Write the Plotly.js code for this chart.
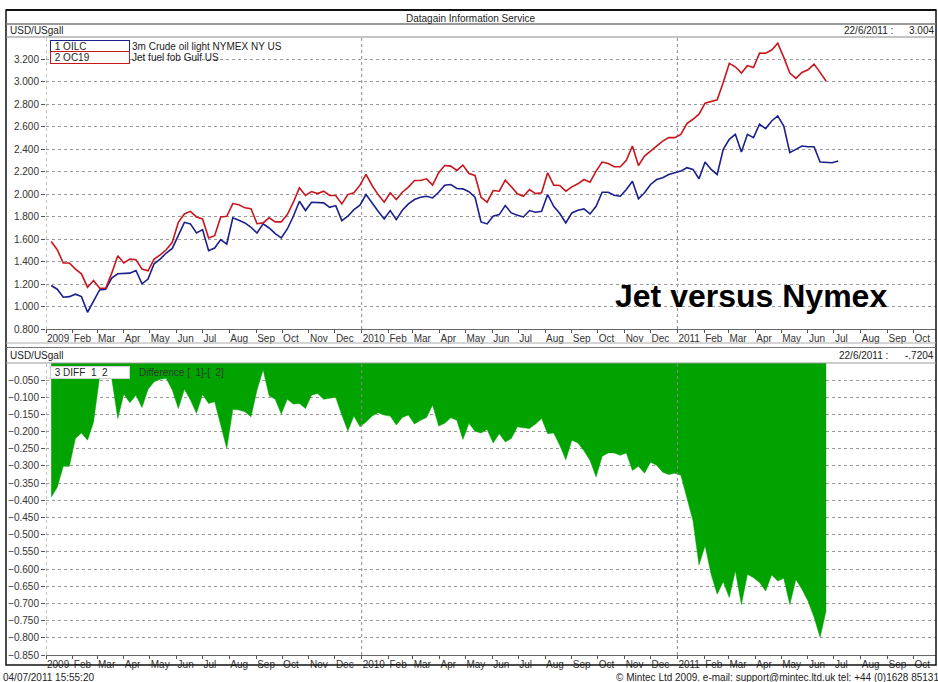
<!DOCTYPE html>
<html><head><meta charset="utf-8">
<script src="https://cdn.plot.ly/plotly-3.0.1.min.js"></script>
<style>html,body{margin:0;padding:0;background:#fff}#chart{width:938px;height:682px}</style>
</head><body><div id="chart"></div>
<script>
// Weekly observation dates (Wednesdays)
const weeks = [
'2009-01-07','2009-01-14','2009-01-21','2009-01-28','2009-02-04','2009-02-11','2009-02-18','2009-02-25',
'2009-03-04','2009-03-11','2009-03-18','2009-03-25','2009-04-01','2009-04-08','2009-04-15','2009-04-22','2009-04-29',
'2009-05-06','2009-05-13','2009-05-20','2009-05-27','2009-06-03','2009-06-10','2009-06-17','2009-06-24',
'2009-07-01','2009-07-08','2009-07-15','2009-07-22','2009-07-29','2009-08-05','2009-08-12','2009-08-19','2009-08-26',
'2009-09-02','2009-09-09','2009-09-16','2009-09-23','2009-09-30','2009-10-07','2009-10-14','2009-10-21','2009-10-28',
'2009-11-04','2009-11-11','2009-11-18','2009-11-25','2009-12-02','2009-12-09','2009-12-16','2009-12-23','2009-12-30',
'2010-01-06','2010-01-13','2010-01-20','2010-01-27','2010-02-03','2010-02-10','2010-02-17','2010-02-24',
'2010-03-03','2010-03-10','2010-03-17','2010-03-24','2010-03-31','2010-04-07','2010-04-14','2010-04-21','2010-04-28',
'2010-05-05','2010-05-12','2010-05-19','2010-05-26','2010-06-02','2010-06-09','2010-06-16','2010-06-23','2010-06-30',
'2010-07-07','2010-07-14','2010-07-21','2010-07-28','2010-08-04','2010-08-11','2010-08-18','2010-08-25',
'2010-09-01','2010-09-08','2010-09-15','2010-09-22','2010-09-29','2010-10-06','2010-10-13','2010-10-20','2010-10-27',
'2010-11-03','2010-11-10','2010-11-17','2010-11-24','2010-12-01','2010-12-08','2010-12-15','2010-12-22','2010-12-29',
'2011-01-05','2011-01-12','2011-01-19','2011-01-26','2011-02-02','2011-02-09','2011-02-16','2011-02-23',
'2011-03-02','2011-03-09','2011-03-16','2011-03-23','2011-03-30','2011-04-06','2011-04-13','2011-04-20','2011-04-27',
'2011-05-04','2011-05-11','2011-05-18','2011-05-25','2011-06-01','2011-06-08','2011-06-15','2011-06-22','2011-06-29','2011-07-06'
];

// 1 OILC  3m Crude oil light NYMEX NY US (USD/USgall)
const oilc = [
1.187,1.154,1.083,1.088,1.110,1.088,0.949,1.044,1.148,1.154,
1.253,1.291,1.297,1.297,1.321,1.202,1.244,1.380,1.422,1.476,
1.517,1.633,1.749,1.735,1.654,1.684,1.496,1.520,1.595,1.556,
1.789,1.767,1.744,1.705,1.654,1.735,1.699,1.648,1.610,1.690,
1.803,1.937,1.854,1.928,1.922,1.922,1.883,1.898,1.764,1.803,
1.862,1.901,1.996,1.916,1.847,1.779,1.854,1.773,1.857,1.913,
1.952,1.972,1.981,1.966,2.017,2.080,2.086,2.050,2.047,2.021,
1.972,1.753,1.735,1.803,1.818,1.898,1.833,1.812,1.797,1.854,
1.839,1.847,1.996,1.892,1.827,1.744,1.833,1.857,1.869,1.824,
1.892,2.017,2.017,1.990,1.981,2.041,2.115,1.958,2.012,2.086,
2.130,2.146,2.175,2.190,2.205,2.235,2.220,2.137,2.285,2.220,
2.175,2.398,2.488,2.532,2.374,2.532,2.503,2.622,2.583,2.651,
2.696,2.606,2.369,2.398,2.428,2.422,2.422,2.285,2.285,2.279,
2.294
];

// 2 OC19  Jet fuel fob Gulf US (USD/USgall)
const oc19 = [
1.579,1.505,1.387,1.387,1.333,1.291,1.172,1.231,1.163,1.163,
1.297,1.452,1.387,1.422,1.416,1.333,1.318,1.422,1.460,1.505,
1.571,1.749,1.824,1.847,1.797,1.779,1.610,1.630,1.797,1.803,
1.916,1.905,1.878,1.871,1.737,1.744,1.789,1.753,1.753,1.818,
1.928,2.056,1.988,2.023,2.005,2.026,1.988,1.988,1.913,1.996,
2.012,2.080,2.175,2.077,1.996,1.928,2.012,1.952,2.017,2.062,
2.121,2.121,2.136,2.080,2.190,2.255,2.249,2.211,2.258,2.184,
2.166,1.972,1.928,2.032,2.026,2.124,2.065,2.003,1.981,2.041,
2.005,2.012,2.190,2.080,2.077,2.026,2.065,2.092,2.130,2.106,
2.205,2.285,2.273,2.244,2.244,2.300,2.428,2.255,2.338,2.383,
2.434,2.472,2.503,2.503,2.532,2.628,2.666,2.711,2.809,2.824,
2.839,2.994,3.163,3.133,3.077,3.142,3.127,3.255,3.253,3.282,
3.342,3.217,3.077,3.030,3.083,3.106,3.157,3.083,3.004
];

// 3 DIFF  Difference [1]-[2]
const diff = [
-0.391,-0.362,-0.301,-0.301,-0.220,-0.204,-0.225,-0.172,-0.040,-0.030,
-0.045,-0.162,-0.091,-0.116,-0.094,-0.130,-0.077,-0.055,-0.048,-0.045,
-0.079,-0.133,-0.077,-0.108,-0.147,-0.092,-0.118,-0.113,-0.181,-0.249,
-0.135,-0.137,-0.142,-0.157,-0.079,-0.020,-0.096,-0.106,-0.149,-0.106,
-0.120,-0.118,-0.133,-0.094,-0.089,-0.106,-0.103,-0.100,-0.152,-0.198,
-0.155,-0.186,-0.172,-0.155,-0.145,-0.152,-0.155,-0.181,-0.159,-0.152,
-0.178,-0.167,-0.159,-0.123,-0.184,-0.176,-0.160,-0.167,-0.223,-0.176,
-0.199,-0.204,-0.194,-0.233,-0.206,-0.230,-0.220,-0.186,-0.189,-0.191,
-0.178,-0.162,-0.206,-0.204,-0.240,-0.282,-0.225,-0.233,-0.256,-0.284,
-0.332,-0.272,-0.262,-0.262,-0.269,-0.262,-0.313,-0.301,-0.321,-0.289,
-0.298,-0.318,-0.325,-0.321,-0.327,-0.391,-0.459,-0.588,-0.532,-0.615,
-0.673,-0.637,-0.683,-0.605,-0.703,-0.615,-0.625,-0.639,-0.664,-0.617,
-0.635,-0.627,-0.703,-0.630,-0.659,-0.693,-0.740,-0.798,-0.7204
];

const monthTicks = [
'2009-01-01','2009-02-01','2009-03-01','2009-04-01','2009-05-01','2009-06-01','2009-07-01','2009-08-01','2009-09-01','2009-10-01','2009-11-01','2009-12-01',
'2010-01-01','2010-02-01','2010-03-01','2010-04-01','2010-05-01','2010-06-01','2010-07-01','2010-08-01','2010-09-01','2010-10-01','2010-11-01','2010-12-01',
'2011-01-01','2011-02-01','2011-03-01','2011-04-01','2011-05-01','2011-06-01','2011-07-01','2011-08-01','2011-09-01','2011-10-01'
];
const monthLabels = [
'2009','Feb','Mar','Apr','May','Jun','Jul','Aug','Sep','Oct','Nov','Dec',
'2010','Feb','Mar','Apr','May','Jun','Jul','Aug','Sep','Oct','Nov','Dec',
'2011','Feb','Mar','Apr','May','Jun','Jul','Aug','Sep','Oct'
];
const yearLines = ['2009-01-01','2010-01-01','2011-01-01'];

const FONT = 'Liberation Sans, Arial, sans-serif';
const W = 938, H = 682, L = 46, R = 2, T = 37, B = 27;
const pw = W - L - R, ph = H - T - B;
const px = x => (x - L) / pw;
const py = y => (H - B - y) / ph;

const traces = [
  {x: weeks.slice(0, diff.length), y: diff, xaxis: 'x2', yaxis: 'y2', type: 'scatter', mode: 'lines',
   fill: 'tozeroy', fillcolor: '#00a300', line: {color: '#00a300', width: 0.5}, hoverinfo: 'skip'},
  {x: weeks.slice(0, oilc.length), y: oilc, xaxis: 'x', yaxis: 'y', type: 'scatter', mode: 'lines',
   line: {color: '#1b1f8c', width: 1.6}},
  {x: weeks.slice(0, oc19.length), y: oc19, xaxis: 'x', yaxis: 'y', type: 'scatter', mode: 'lines',
   line: {color: '#c8161d', width: 1.6}}
];

const xCommon = {
  type: 'date', range: ['2009-01-01', '2011-10-27'],
  tickmode: 'array', tickvals: monthTicks, ticktext: monthLabels, tickangle: 0,
  ticklabelposition: 'outside right', ticks: 'outside', ticklen: 3, tickcolor: '#555',
  tickfont: {family: FONT, size: 10, color: '#333'},
  showgrid: false, zeroline: false, showline: true, linecolor: '#666', linewidth: 1, fixedrange: true
};
const yCommon = {
  tickformat: '.3f', ticks: 'outside', ticklen: 4, tickcolor: '#555', tickmode: 'linear',
  tickfont: {family: FONT, size: 10, color: '#333'},
  showgrid: true, gridcolor: '#9a9a9a', griddash: 'dot', gridwidth: 1,
  zeroline: false, showline: false, fixedrange: true
};

const shapes = [];
yearLines.forEach(d => {
  shapes.push({type: 'line', xref: 'x', yref: 'y domain', x0: d, x1: d, y0: 0, y1: 1,
               line: {color: '#8a8a8a', width: 1, dash: 'dot'}, layer: 'below'});
  shapes.push({type: 'line', xref: 'x2', yref: 'y2 domain', x0: d, x1: d, y0: 0, y1: 1,
               line: {color: '#8a8a8a', width: 1, dash: 'dot'}, layer: 'above'});
});
// frame and header rules
const hline = (y, color, w) => ({type: 'line', xref: 'paper', yref: 'paper', x0: px(6), x1: px(936), y0: py(y), y1: py(y), line: {color: color, width: w}});
shapes.push({type: 'rect', xref: 'paper', yref: 'paper', x0: px(6), x1: px(936), y0: py(665), y1: py(10), line: {color: '#111', width: 1.5}});
shapes.push(hline(10, '#111', 2));
shapes.push(hline(24, '#777', 1.5));
shapes.push(hline(37, '#888', 1));
shapes.push(hline(343, '#aaa', 1));
shapes.push(hline(347.5, '#777', 1.2));
shapes.push(hline(363, '#999', 1));

const ann = (text, x, y, opts) => Object.assign({text: text, xref: 'paper', yref: 'paper', x: px(x), y: py(y),
  xanchor: 'left', yanchor: 'middle', showarrow: false, font: {family: FONT, size: 10, color: '#222'}}, opts || {});
const nb = s => s.replace(/ /g, '\u00a0');

const annotations = [
  ann('Datagain Information Service', 470, 18, {xanchor: 'center'}),
  ann('USD/USgall', 8, 30.5),
  ann(nb('22/6/2011 :'), 895, 30.5, {xanchor: 'right'}),
  ann('3.004', 936, 30.5, {xanchor: 'right'}),
  ann(nb(' 1 OILC'), 50, 46, {width: 76, height: 9, align: 'left', bordercolor: '#1b1f8c', borderwidth: 1, borderpad: 1, bgcolor: '#fff'}),
  ann(nb(' 2 OC19'), 50, 58, {width: 76, height: 9, align: 'left', bordercolor: '#c8161d', borderwidth: 1, borderpad: 1, bgcolor: '#fff'}),
  ann('3m Crude oil light NYMEX NY US', 130, 46),
  ann('Jet fuel fob Gulf US', 130, 58),
  ann('Jet versus Nymex', 613, 296, {font: {family: FONT, size: 32, color: '#000', weight: 'bold'}}),
  ann('USD/USgall', 8, 355.5),
  ann(nb('22/6/2011 :'), 890, 355.5, {xanchor: 'right'}),
  ann('-.7204', 936, 355.5, {xanchor: 'right'}),
  ann(nb(' 3 DIFF  1  2'), 50, 372.5, {width: 76, height: 9, align: 'left', bordercolor: '#cfcfcf', borderwidth: 1, borderpad: 1, bgcolor: '#fff'}),
  ann(nb('Difference [  1]-[  2]'), 137, 372.5, {font: {family: FONT, size: 10, color: '#2d3a2d'}}),
  ann('04/07/2011 15:55:20', 1, 677),
  ann('\u00a9 Mintec Ltd 2009. e-mail: support@mintec.ltd.uk tel: +44 (0)1628 85131', 941, 677, {xanchor: 'right'})
];

const layout = {
  width: W, height: H, margin: {l: L, r: R, t: T, b: B}, showlegend: false,
  paper_bgcolor: '#fff', plot_bgcolor: '#fff', font: {family: FONT, size: 10, color: '#222'},
  xaxis: Object.assign({}, xCommon, {anchor: 'y', domain: [0, 1]}),
  xaxis2: Object.assign({}, xCommon, {anchor: 'y2', domain: [0, 1], matches: 'x'}),
  yaxis: Object.assign({}, yCommon, {domain: [py(329), 1], range: [0.8, 3.398], tick0: 0.8, dtick: 0.2}),
  yaxis2: Object.assign({}, yCommon, {domain: [0, py(363)], range: [-0.85, -0.0005], tick0: -0.85, dtick: 0.05}),
  shapes: shapes, annotations: annotations
};

Plotly.newPlot('chart', traces, layout, {staticPlot: true, displayModeBar: false});
</script>
</body></html>
